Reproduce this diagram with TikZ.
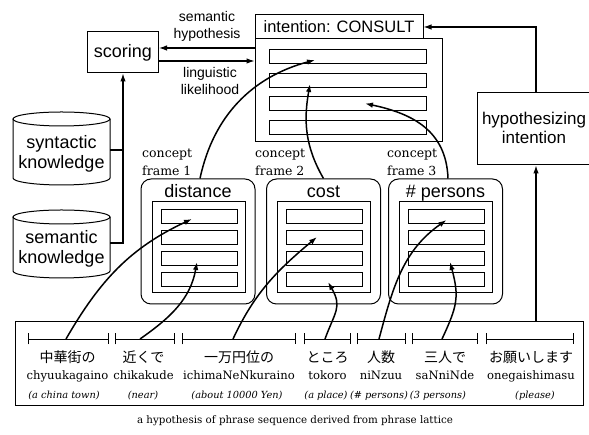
\documentclass[tikz,border=0pt]{standalone}
\usepackage{fontspec}
\setmainfont{DejaVu Serif}
\setsansfont{Liberation Sans}
\newfontfamily\jpfont{Noto Sans CJK JP}
\usepackage{tikz}
\usetikzlibrary{arrows.meta,calc,positioning}

\begin{document}
\begin{tikzpicture}[x=1pt,y=1pt,>={Latex[length=8pt,width=5.5pt]},
  box/.style={draw,line width=1pt,inner sep=0pt},
  slot/.style={draw,line width=0.9pt,minimum height=14pt,inner sep=0pt},
  lbl/.style={font=\sffamily\fontsize{18}{19.5}\selectfont,align=center},
  small/.style={font=\sffamily\fontsize{14}{17}\selectfont,align=center},
  concept/.style={font=\fontsize{12.5}{18}\selectfont,align=left,inner sep=0pt},
  jp/.style={font=\jpfont\fontsize{14}{16}\selectfont,anchor=base},
  roma/.style={font=\fontsize{11.6}{14}\selectfont,anchor=base},
  gloss/.style={font=\itshape\fontsize{9.8}{12}\selectfont,anchor=base},
  link/.style={->,line width=1.1pt},
  flow/.style={->,line width=1.5pt}]
\useasboundingbox (0,0) rectangle (589,435);

% intention frame with its slots
\node[box,minimum width=168pt,minimum height=24pt,font=\sffamily\fontsize{16.5}{18}\selectfont] (tab) at (339,408) {intention: CONSULT};
\node[box,minimum width=187pt,minimum height=103pt] (intent) at (348.5,344.5) {};
\foreach \i/\y in {1/378.5,2/355,3/331.5,4/308}
  \node[slot,minimum width=157pt] (int-\i) at (347.5,\y) {};

% scoring and its inputs
\node[box,lbl,minimum width=71pt,minimum height=41pt] (score) at (123,382.5) {scoring};
\draw[link] (intent.west |- 0,387) -- (score.east |- 0,387);
\draw[link] (score.east |- 0,374) -- (intent.west |- 0,374);
\node[small] (hyplbl) at (207,408.5) {semantic\\hypothesis};
\node[small] (liklbl) at (210,354) {linguistic\\likelihood};

% knowledge bases
\draw[line width=1pt] (13,316) -- (13,257) arc (180:360:48.5 and 7) -- (110,316);
\draw[line width=1pt] (61.5,316) ellipse (48.5 and 7);
\node[lbl,minimum width=97pt,inner sep=0pt] (syn) at (61.5,281) {syntactic\\knowledge};
\draw[line width=1pt] (13,218) -- (13,164) arc (180:360:48.5 and 7) -- (110,218);
\draw[line width=1pt] (61.5,218) ellipse (48.5 and 7);
\node[lbl,minimum width=97pt,inner sep=0pt] (sem) at (61.5,186) {semantic\\knowledge};
\draw[link] (sem.east |- 0,192) -| (score.south);
\draw[line width=1.1pt] (syn.east |- 0,285) -- (score.south |- 0,285);

% concept frames
\foreach \n/\x/\t/\lx in {1/198/distance/142,2/323.5/cost/255,3/445.5/\# persons/387} {
  \node[draw,line width=1pt,rounded corners=10pt,minimum width=114pt,minimum height=125pt,inner sep=0pt] (f\n) at (\x,193.5) {};
  \node[lbl,anchor=base] (f\n-t) at (\x,237) {\t};
  \node[box,minimum width=93pt,minimum height=91pt] (f\n-in) at (\x+0.5,187.5) {};
  \foreach \j/\y in {1/219,2/198,3/177,4/156}
    \node[slot,minimum width=76pt] (f\n-\j) at (\x+1,\y) {};
  \node[concept,anchor=south west] (f\n-c) at (\lx,259) {concept\\frame \n};
}

% hypothesizing intention
\node[box,minimum width=118pt,minimum height=72pt] (hyp) at (536,306) {};
\node[lbl,font=\sffamily\fontsize{17}{19}\selectfont] (hyp-t) at (534,307.5) {hypothesizing\\intention};

% phrase sequence: segment ends, text x, gloss x
\node[box,minimum width=568pt,minimum height=84pt] (lat) at (299,71) {};
\foreach \n/\a/\b/\tx/\gx/\jw/\rw/\gw in {
    1/28/109/67.5/64/中華街の/chyuukagaino/{(a china town)},
    2/115/175/143.5/143/近くで/chikakude/{(near)},
    3/182/296/239/237/一万円位の/ichimaNeNkuraino/{(about 10000 Yen)},
    4/304/351/327.5/326/ところ/tokoro/{(a place)},
    5/357/406/381/379/人数/niNzuu/{(\# persons)},
    6/412/478/445/438/三人で/saNniNde/{(3 persons)},
    7/486/574/531/535/お願いします/onegaishimasu/{(please)}} {
  \coordinate (s\n-l) at (\a,96);
  \coordinate (s\n-r) at (\b,96);
  \coordinate (s\n) at ({(\a+\b)/2},96);
  \draw[line width=0.9pt,{Bar[width=11pt]}-{Bar[width=11pt]}] (s\n-l) -- (s\n-r);
  \node[jp] (j\n) at (\tx,72) {\jw};
  \node[roma] (r\n) at (\tx,55) {\rw};
  \node[gloss] (g\n) at (\gx,36) {\gw};
}
\node[font=\fontsize{10.3}{12}\selectfont,anchor=base] (cap) at (295,11) {a hypothesis of phrase sequence derived from phrase lattice};

% phrases fill the concept slots
\draw[flow] ([xshift=-2.5pt]s1) to[out=60,in=205] ([xshift=-7pt,yshift=-3pt]f1-1.center);
\draw[flow] ([xshift=-5pt]s2) to[out=35,in=260] ([xshift=-2pt,yshift=-4pt]f1-3.center);
\draw[flow] ([xshift=-6pt]s3) to[out=65,in=220] ([xshift=-7.5pt]f2-2.center);
\draw[flow] ([xshift=-2.5pt]s4) to[out=70,in=-60,looseness=1.3] ([xshift=3.5pt,yshift=-3pt]f2-4.center);
\draw[flow] ([xshift=-2.5pt]s5) to[out=75,in=215] ([yshift=-4pt]f3-1.center);
\draw[flow] ([xshift=-3pt]s6) to[out=65,in=-75,looseness=1.2] ([xshift=3.5pt,yshift=-4pt]f3-3.center);
% concept frames fill the intention slots
\draw[flow] ([xshift=2pt]f1.north) to[out=78,in=195] ([xshift=-32.5pt,yshift=-3.5pt]int-1.center);
\draw[flow] (f2.north) to[out=120,in=-100] ([xshift=-37.5pt,yshift=-4pt]int-2.center);
\draw[flow] ([xshift=2.5pt]f3.north) to[out=92,in=-12,looseness=1.1] ([xshift=17.5pt]int-3.center);

% intention hypothesis loop
\draw[link] (hyp.south |- lat.north) -- (hyp.south);
\draw[link] (hyp.north) |- (tab.east);
\end{tikzpicture}
\end{document}
